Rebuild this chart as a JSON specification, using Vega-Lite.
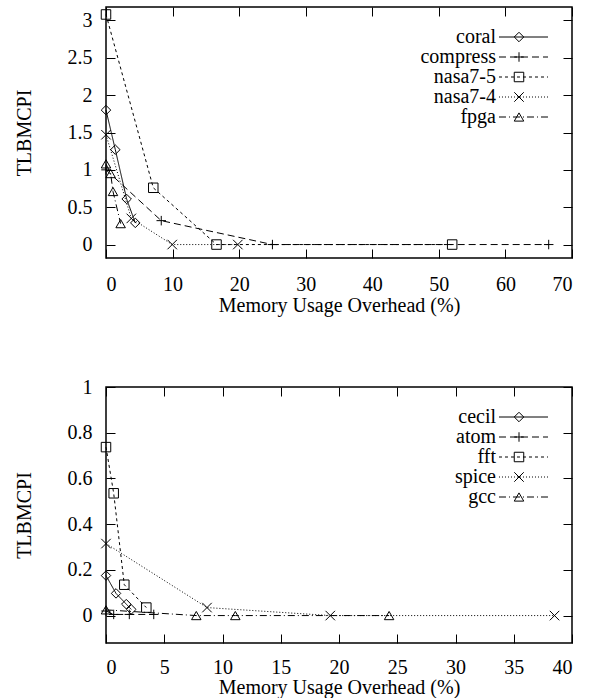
{
  "$schema": "https://vega.github.io/schema/vega-lite/v6.json",
  "padding": {"left": 13, "top": 5, "right": 5, "bottom": 0},
  "background": "white",
  "spacing": 60,
  "resolve": {"scale": {"strokeDash": "independent", "shape": "independent"}, "legend": {"strokeDash": "independent", "shape": "independent"}},
  "config": {
    "view": {"stroke": "black", "strokeWidth": 1.5},
    "font": "Liberation Serif",
    "axis": {
      "grid": false, "domain": false,
      "tickColor": "black", "tickSize": -9, "tickWidth": 1,
      "labelFont": "Liberation Serif", "labelFontSize": 20, "labelColor": "black",
      "titleFont": "Liberation Serif", "titleFontSize": 20, "titleFontWeight": "normal", "titleColor": "black"
    },
    "legend": {
      "labelFont": "Liberation Serif", "labelFontSize": 20, "labelColor": "black",
      "padding": 0, "rowPadding": 0
    }
  },
  "datasets": {
    "top": [
      {"series": "coral", "x": 0, "y": 1.8},
      {"series": "coral", "x": 1.4, "y": 1.27},
      {"series": "coral", "x": 3.1, "y": 0.61},
      {"series": "coral", "x": 4.4, "y": 0.29},
      {"series": "compress", "x": 0, "y": 1.0},
      {"series": "compress", "x": 8.3, "y": 0.32},
      {"series": "compress", "x": 25, "y": 0},
      {"series": "compress", "x": 66.5, "y": 0},
      {"series": "nasa7-5", "x": 0, "y": 3.08},
      {"series": "nasa7-5", "x": 7.1, "y": 0.76},
      {"series": "nasa7-5", "x": 16.6, "y": 0},
      {"series": "nasa7-5", "x": 52, "y": 0},
      {"series": "nasa7-4", "x": 0, "y": 1.47},
      {"series": "nasa7-4", "x": 3.8, "y": 0.35},
      {"series": "nasa7-4", "x": 9.95, "y": 0},
      {"series": "nasa7-4", "x": 19.8, "y": 0},
      {"series": "fpga", "x": 0, "y": 1.08},
      {"series": "fpga", "x": 0.7, "y": 0.95},
      {"series": "fpga", "x": 1.05, "y": 0.71},
      {"series": "fpga", "x": 2.2, "y": 0.28}
    ],
    "bottom": [
      {"series": "cecil", "x": 0, "y": 0.175},
      {"series": "cecil", "x": 0.86, "y": 0.097},
      {"series": "cecil", "x": 1.74, "y": 0.05},
      {"series": "cecil", "x": 2.17, "y": 0.027},
      {"series": "atom", "x": 0, "y": 0.02},
      {"series": "atom", "x": 0.66, "y": 0.005},
      {"series": "atom", "x": 2.0, "y": 0.005},
      {"series": "atom", "x": 4.1, "y": 0.005},
      {"series": "fft", "x": 0, "y": 0.737},
      {"series": "fft", "x": 0.66, "y": 0.535},
      {"series": "fft", "x": 1.57, "y": 0.135},
      {"series": "fft", "x": 3.46, "y": 0.035},
      {"series": "spice", "x": 0, "y": 0.315},
      {"series": "spice", "x": 8.67, "y": 0.035},
      {"series": "spice", "x": 19.25, "y": 0},
      {"series": "spice", "x": 38.5, "y": 0},
      {"series": "gcc", "x": 0, "y": 0.025},
      {"series": "gcc", "x": 7.75, "y": 0},
      {"series": "gcc", "x": 11.1, "y": 0},
      {"series": "gcc", "x": 24.3, "y": 0}
    ]
  },
  "vconcat": [
    {
      "width": 466, "height": 251,
      "data": {"name": "top"},
      "layer": [
        {
          "mark": {"type": "line", "color": "black", "strokeWidth": 1},
          "encoding": {
            "x": {"field": "x", "type": "quantitative", "scale": {"domain": [0, 70], "nice": false},
                  "axis": {"orient": "bottom", "values": [0,10,20,30,40,50,60,70], "title": "Memory Usage Overhead (%)", "labelPadding": 25, "titlePadding": 1}},
            "y": {"field": "y", "type": "quantitative", "scale": {"domain": [-0.18, 3.18], "nice": false, "zero": false},
                  "axis": {"orient": "left", "values": [0,0.5,1,1.5,2,2.5,3], "format": "~g", "title": "TLBMCPI", "labelPadding": 23, "titlePadding": 33}},
            "strokeDash": {"field": "series", "type": "nominal",
              "scale": {"domain": ["coral","compress","nasa7-5","nasa7-4","fpga"], "range": [[1,0],[7,4],[3,3],[1,2],[7,3,1,3]]},
              "legend": {"title": null, "orient": "none", "legendX": 407.5, "legendY": 20, "symbolType": "M-2.58,0L2.58,0", "symbolSize": 361, "symbolStrokeWidth": 1, "symbolStrokeColor": "black", "symbolOpacity": 1, "labelAlign": "right", "labelOffset": -37.5}}
          }
        },
        {
          "mark": {"type": "point", "filled": false, "color": "black", "strokeWidth": 1, "size": 90, "opacity": 1},
          "encoding": {
            "x": {"field": "x", "type": "quantitative", "axis": {"orient": "top", "values": [0,10,20,30,40,50,60,70], "labels": false, "title": null}},
            "y": {"field": "y", "type": "quantitative", "axis": {"orient": "right", "values": [0,0.5,1,1.5,2,2.5,3], "labels": false, "title": null}},
            "shape": {"field": "series", "type": "nominal",
              "scale": {"domain": ["coral","compress","nasa7-5","nasa7-4","fpga"], "range": ["diamond","M-1,0L1,0M0,-1L0,1","square","M-1,-1L1,1M-1,1L1,-1","triangle-up"]},
              "legend": {"title": null, "orient": "top-right", "offset": 19.5, "clipHeight": 20, "symbolSize": 90, "symbolStrokeWidth": 1, "symbolStrokeColor": "black", "symbolFillColor": "white", "labelExpr": "'.'", "labelOpacity": 0, "labelAlign": "right", "labelOffset": 23.25}}
          }
        }
      ],
      "resolve": {"axis": {"x": "independent", "y": "independent"}}
    },
    {
      "width": 466, "height": 256,
      "data": {"name": "bottom"},
      "layer": [
        {
          "mark": {"type": "line", "color": "black", "strokeWidth": 1},
          "encoding": {
            "x": {"field": "x", "type": "quantitative", "scale": {"domain": [0, 40], "nice": false},
                  "axis": {"orient": "bottom", "values": [0,5,10,15,20,25,30,35,40], "title": "Memory Usage Overhead (%)", "labelPadding": 23, "titlePadding": 0}},
            "y": {"field": "y", "type": "quantitative", "scale": {"domain": [-0.12, 1.0], "nice": false, "zero": false},
                  "axis": {"orient": "left", "values": [0,0.2,0.4,0.6,0.8,1], "format": "~g", "title": "TLBMCPI", "labelPadding": 23, "titlePadding": 33}},
            "strokeDash": {"field": "series", "type": "nominal",
              "scale": {"domain": ["cecil","atom","fft","spice","gcc"], "range": [[1,0],[7,4],[3,3],[1,2],[7,3,1,3]]},
              "legend": {"title": null, "orient": "none", "legendX": 407.5, "legendY": 20, "symbolType": "M-2.58,0L2.58,0", "symbolSize": 361, "symbolStrokeWidth": 1, "symbolStrokeColor": "black", "symbolOpacity": 1, "labelAlign": "right", "labelOffset": -37.5}}
          }
        },
        {
          "mark": {"type": "point", "filled": false, "color": "black", "strokeWidth": 1, "size": 90, "opacity": 1},
          "encoding": {
            "x": {"field": "x", "type": "quantitative", "axis": {"orient": "top", "values": [0,5,10,15,20,25,30,35,40], "labels": false, "title": null}},
            "y": {"field": "y", "type": "quantitative", "axis": {"orient": "right", "values": [0,0.2,0.4,0.6,0.8,1], "labels": false, "title": null}},
            "shape": {"field": "series", "type": "nominal",
              "scale": {"domain": ["cecil","atom","fft","spice","gcc"], "range": ["diamond","M-1,0L1,0M0,-1L0,1","square","M-1,-1L1,1M-1,1L1,-1","triangle-up"]},
              "legend": {"title": null, "orient": "top-right", "offset": 19.5, "clipHeight": 20, "symbolSize": 90, "symbolStrokeWidth": 1, "symbolStrokeColor": "black", "symbolFillColor": "white", "labelExpr": "'.'", "labelOpacity": 0, "labelAlign": "right", "labelOffset": 23.25}}
          }
        }
      ],
      "resolve": {"axis": {"x": "independent", "y": "independent"}}
    }
  ]
}
